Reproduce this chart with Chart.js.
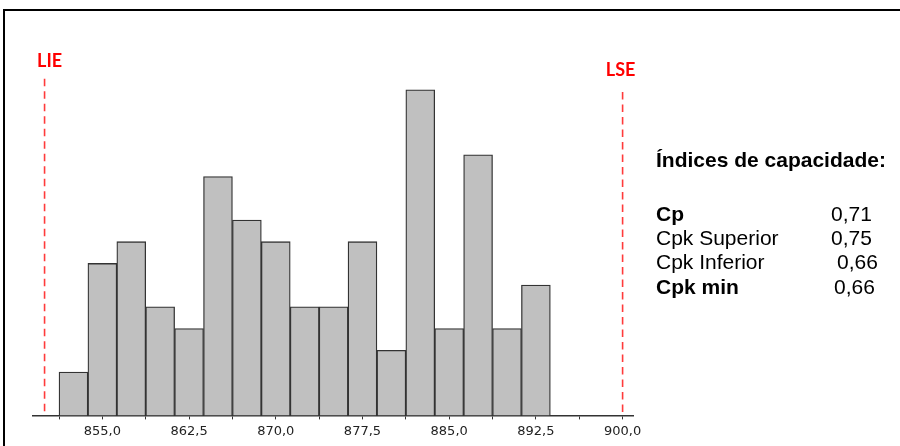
<!DOCTYPE html>
<html>
<head>
<meta charset="utf-8">
<script src="https://cdn.jsdelivr.net/npm/chart.js@4/dist/chart.umd.min.js"></script>
<style>
  html, body { margin: 0; padding: 0; background: #fff; }
  #wrap { position: relative; width: 900px; height: 446px; overflow: hidden; }
  #frame { position: absolute; left: 3px; top: 9px; width: 900px; height: 450px;
           border-top: 2px solid #000; border-left: 2px solid #000; box-sizing: border-box; }
  canvas { position: absolute; left: 0; top: 0; }
  .side { position: absolute; font-family: "Liberation Sans", Arial, sans-serif; font-size: 21px;
          line-height: 21px; color: #000; white-space: nowrap; }
  .b { font-weight: bold; }
</style>
</head>
<body>
<div id="wrap">
  <div id="frame"></div>
  <canvas id="c" width="900" height="446"></canvas>
</div>
<script>
// ---- data ----
const binCenters = [852.5, 855, 857.5, 860, 862.5, 865, 867.5, 870, 872.5, 875, 877.5, 880, 882.5, 885, 887.5, 890, 892.5];
const counts     = [2, 7, 8, 5, 4, 11, 9, 8, 5, 5, 8, 3, 15, 4, 12, 4, 6];
const majorTicks = [855, 862.5, 870, 877.5, 885, 892.5, 900];
const tickLabels = ['855,0', '862,5', '870,0', '877,5', '885,0', '892,5', '900,0'];
const minorTicks = [851.25, 858.75, 866.25, 873.75, 881.25, 888.75, 896.25];
const specLimits = [850, 900];
const specLabels = ['LIE', 'LSE'];
const indexTitle = 'Índices de capacidade:';
const indexNames = ['Cp', 'Cpk Superior', 'Cpk Inferior', 'Cpk min'];
const indexValues = ['0,71', '0,75', '0,66', '0,66'];

// ---- side panel (HTML text) ----
const wrap = document.getElementById('wrap');
function addText(txt, left, top, bold) {
  const d = document.createElement('div');
  d.className = 'side' + (bold ? ' b' : '');
  d.style.left = left + 'px';
  d.style.top = top + 'px';
  d.textContent = txt;
  wrap.appendChild(d);
}
addText(indexTitle, 656, 149, true);
const rowTops = [203, 227, 251, 276];
const valueLefts = [831, 831, 837, 834];
const boldRows = [true, false, false, true];
indexNames.forEach((n, i) => {
  addText(n, 656, rowTops[i], boldRows[i]);
  addText(indexValues[i], valueLefts[i], rowTops[i], false);
});

// ---- spec limit plugin ----
const specPlugin = {
  id: 'specLines',
  afterDatasetsDraw(chart, args, opts) {
    const { ctx, chartArea } = chart;
    const xs = chart.scales.x, ys = chart.scales.y;
    ctx.save();
    specLimits.forEach((v, i) => {
      const px = xs.getPixelForValue(v);
      const top = ys.getPixelForValue(opts.lineTops[i]);
      ctx.beginPath();
      ctx.setLineDash([7.5, 5]);
      ctx.lineWidth = 1.6;
      ctx.strokeStyle = '#ff3b3b';
      ctx.moveTo(px, top);
      ctx.lineTo(px, chartArea.bottom);
      ctx.stroke();
      ctx.setLineDash([]);
      ctx.fillStyle = '#ff0000';
      ctx.font = 'bold 18px Lato, "Open Sans", sans-serif';
      ctx.textAlign = 'center';
      ctx.textBaseline = 'alphabetic';
      ctx.fillText(specLabels[i], px + opts.labelDx[i], ys.getPixelForValue(opts.labelY[i]));
    });
    ctx.restore();
  }
};

new Chart(document.getElementById('c'), {
  type: 'bar',
  data: {
    datasets: [{
      data: binCenters.map((c, i) => ({ x: c, y: counts[i] })),
      backgroundColor: '#c0c0c0',
      borderColor: '#333333',
      borderWidth: 1.3,
      barPercentage: 1,
      categoryPercentage: 1
    }]
  },
  options: {
    responsive: false,
    animation: false,
    layout: { padding: { left: 33, right: 267, top: 68, bottom: 3 } },
    plugins: {
      legend: { display: false },
      tooltip: { enabled: false },
      specLines: { lineTops: [15.5, 14.9], labelY: [16.05, 15.65], labelDx: [5, -2] }
    },
    scales: {
      x: {
        type: 'linear',
        min: 849,
        max: 900.9,
        offset: false,
        afterBuildTicks(scale) {
          const all = majorTicks.concat(minorTicks).sort((a, b) => a - b);
          scale.ticks = all.map(v => ({ value: v }));
        },
        ticks: {
          autoSkip: false,
          maxRotation: 0,
          padding: 4,
          color: '#222',
          font: { family: '"DejaVu Sans", Verdana, sans-serif', size: 13 },
          callback(value) {
            const k = majorTicks.indexOf(value);
            return k >= 0 ? tickLabels[k] : '';
          }
        },
        grid: { offset: false, drawOnChartArea: false, drawTicks: true, tickLength: 4, color: '#333', lineWidth: 1 },
        border: { display: true, color: '#333', width: 1.5 }
      },
      y: {
        display: false,
        min: 0,
        max: 16
      }
    }
  },
  plugins: [specPlugin]
});
</script>
</body>
</html>
